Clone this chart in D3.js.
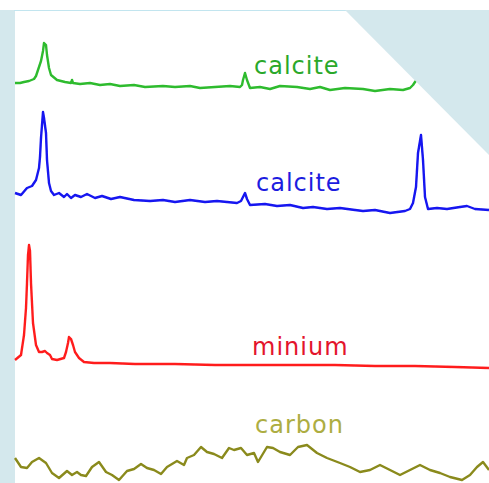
<!DOCTYPE html>
<html>
<head>
<meta charset="utf-8">
<script src="https://cdn.jsdelivr.net/npm/d3@7"></script>
<style>
  body { margin: 0; background: #fff; }
  svg { display: block; }
</style>
</head>
<body>
<svg id="chart" width="489" height="483"></svg>
<script>
// spectra: channel index and stacked intensity
var greenX = [0, 5, 9, 14, 19, 21, 23, 26, 28, 29, 31, 32, 34, 36, 42, 50, 56, 57, 58, 65, 75, 85, 95, 105, 119, 130, 148, 160, 175, 185, 200, 215, 225, 227, 228, 230, 232, 235, 245, 255, 265, 282, 295, 305, 315, 330, 348, 360, 375, 388, 395, 398, 400, 403],
    greenY = [400, 400, 401, 402, 404, 407, 413, 422, 432, 440, 438, 428, 415, 408, 403, 401, 400, 403, 400, 399, 400, 398, 399, 397, 398, 396, 397, 396, 397, 395, 396, 397, 396, 398, 403, 410, 403, 395, 396, 394, 397, 396, 394, 396, 393, 395, 394, 392, 394, 393, 395, 398, 401, 405];

var blueX = [0, 6, 12, 17, 21, 24, 25, 26, 28, 29, 31, 32, 34, 36, 39, 44, 49, 52, 56, 60, 66, 72, 80, 87, 96, 105, 119, 135, 148, 160, 175, 190, 202, 222, 226, 228, 230, 232, 235, 250, 262, 275, 288, 298, 312, 325, 340, 348, 360, 375, 390, 395, 398, 401, 403, 406, 408, 410, 413, 422, 432, 445, 452, 460, 474],
    blueY = [290, 288, 295, 297, 303, 315, 326, 345, 371, 365, 350, 323, 300, 292, 288, 290, 286, 289, 285, 288, 286, 289, 285, 287, 284, 286, 283, 282, 283, 281, 283, 281, 282, 280, 282, 286, 290, 284, 278, 279, 277, 278, 275, 276, 274, 275, 273, 272, 273, 270, 272, 274, 280, 296, 330, 348, 323, 286, 274, 275, 274, 276, 277, 274, 273];

var redX = [0, 6, 9, 11, 12, 13, 14, 15, 16, 18, 21, 24, 27, 30, 32, 35, 37, 42, 49, 51, 53, 54, 56, 58, 60, 64, 69, 79, 95, 120, 160, 200, 240, 280, 320, 360, 400, 440, 474],
    redY = [123, 128, 148, 175, 200, 228, 238, 232, 200, 160, 138, 131, 131, 132, 130, 128, 124, 123, 125, 131, 140, 146, 144, 138, 131, 125, 121, 120, 120, 119, 119, 118, 118, 118, 118, 117, 117, 116, 115];

var carbonX = [0, 6, 12, 17, 24, 31, 37, 44, 52, 57, 62, 66, 71, 77, 84, 91, 97, 104, 112, 119, 126, 132, 139, 146, 152, 162, 169, 172, 179, 186, 192, 199, 207, 214, 219, 226, 232, 239, 243, 252, 258, 265, 275, 283, 292, 302, 312, 325, 335, 345, 355, 365, 375, 385, 395, 405, 415, 425, 435, 447, 455, 462, 468, 474],
    carbonY = [25, 16, 15, 21, 25, 20, 10, 5, 12, 8, 11, 8, 7, 16, 21, 11, 8, 3, 12, 14, 19, 15, 13, 9, 16, 22, 18, 25, 28, 36, 31, 29, 25, 35, 33, 35, 28, 30, 21, 36, 35, 31, 28, 36, 38, 30, 25, 20, 16, 11, 13, 18, 13, 8, 13, 18, 13, 10, 6, 3, 8, 16, 21, 13];

var seriesNames = ["calcite", "calcite", "minium", "carbon"];
var seriesX = [greenX, blueX, redX, carbonX];
var seriesY = [greenY, blueY, redY, carbonY];

var lineColors = ["#2dbb2d", "#1414f0", "#ff1f1f", "#8a8a1c"],
    labelColors = ["#2aa82a", "#1c1ce0", "#e3142c", "#adad42"];

// where each label sits (pixels)
var labelPos = [[254, 74], [256, 191], [252, 355], [255, 433]];

var svg = d3.select("#chart");

var x = d3.scaleLinear().domain([0, 475]).range([15, 490]);
var y = d3.scaleLinear().domain([0, 470]).range([483, 13]);

//soft edges like the scaled-up original
svg.append("defs").append("filter")
  .attr("id", "soft")
  .append("feGaussianBlur")
  .attr("stdDeviation", 0.4);

// page background
svg.append("rect")
  .attr("x", 0).attr("y", 10)
  .attr("width", 15).attr("height", 473)
  .attr("fill", "#d4e8ed");

svg.append("line")
  .attr("x1", 14).attr("x2", 346)
  .attr("y1", 10.5).attr("y2", 10.5)
  .attr("stroke", "#c2e5ef")
  .attr("stroke-width", 1);

var line = d3.line()
  .x(d => x(d[0]))
  .y(d => y(d[1]));

seriesNames.forEach(function(name, i) {
  var pts = d3.zip(seriesX[i], seriesY[i]);
  svg.append("path")
    .datum(pts)
    .attr("d", line)
    .attr("fill", "none")
    .attr("stroke", lineColors[i])
    .attr("stroke-width", 2.4)
    .attr("stroke-linejoin", "round")
    .attr("filter", "url(#soft)");

  svg.append("text")
    .attr("x", labelPos[i][0])
    .attr("y", labelPos[i][1])
    .attr("fill", labelColors[i])
    .attr("font-family", "DejaVu Sans, Verdana, sans-serif")
    .attr("font-size", 24)
    .attr("letter-spacing", 1)
    .text(name);
});

// folded corner at the top right
svg.append("path")
  .attr("d", "M345,10 L489,10 L489,155 Z")
  .attr("fill", "#d4e8ed");
</script>
</body>
</html>
